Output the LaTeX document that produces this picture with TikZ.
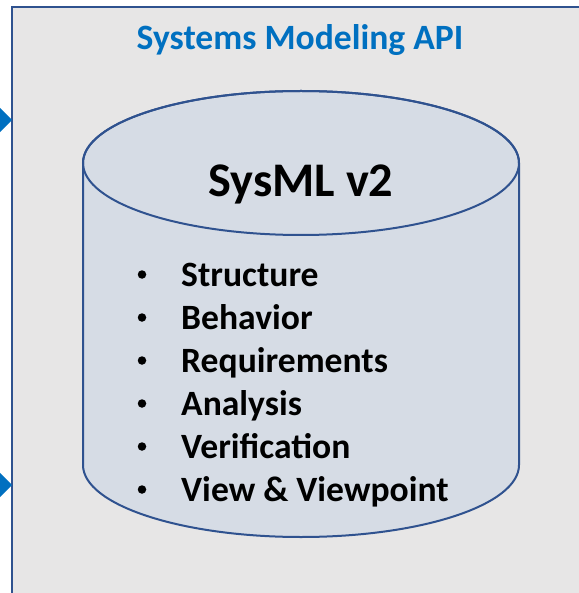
\documentclass[tikz,border=0pt]{standalone}
\usepackage{fontspec}
\setmainfont{Carlito}
\usetikzlibrary{arrows.meta}
\definecolor{framefill}{HTML}{E7E6E6}
\definecolor{frameline}{HTML}{2F528F}
\definecolor{cylfill}{HTML}{D6DCE5}
\definecolor{titleblue}{HTML}{0070C0}
\tikzset{
  framebox/.style={fill=framefill, draw=frameline, line width=1.8pt},
  cyl/.style={fill=cylfill, draw=frameline, line width=2pt},
  titletext/.style={font=\fontsize{35.6}{42}\selectfont\bfseries, text=titleblue, inner sep=0pt},
  bigtext/.style={font=\fontsize{48.3}{58}\selectfont\bfseries, inner sep=0pt},
  itemtext/.style={font=\fontsize{35.6}{42}\selectfont\bfseries, inner sep=0pt, anchor=base west},
  bulletdot/.style={circle, fill=black, inner sep=0pt, minimum size=8.5pt},
  inarrow/.style={-{Triangle[length=20pt,width=40pt]}, draw=titleblue, fill=titleblue, line width=2pt}
}
\begin{document}
\begin{tikzpicture}[x=1pt,y=1pt]
\useasboundingbox (0,0) rectangle (578,-593);
% frame
\draw[framebox] (12,-7) rectangle (600,-620);
\coordinate (fw1) at (12,-120);
\coordinate (fw2) at (12,-485);
\coordinate (src1) at (-60,-120);
\coordinate (src2) at (-60,-485);
\draw[inarrow] (src1) -- (fw1);
\draw[inarrow] (src2) -- (fw2);
% title
\node[titletext, anchor=base] (title) at (300,-50) {Systems Modeling API};
% cylinder
\path[cyl] (83,-163) -- (83,-465)
  arc[start angle=180, end angle=360, x radius=218pt, y radius=72pt]
  -- (519,-163)
  arc[start angle=0, end angle=180, x radius=218pt, y radius=72pt] -- cycle;
\draw[cyl, fill=none] (301,-163) ellipse[x radius=218pt, y radius=72pt];
\node[bigtext, anchor=base] (sysml) at (301,-197) {SysML v2};
% list
\foreach \i/\t/\y in {1/Structure/286, 2/Behavior/329, 3/Requirements/372, 4/Analysis/415, 5/Verification/458, 6/View \& Viewpoint/501}{
  \node[bulletdot] (b\i) at (142,-\y+11.5) {};
  \node[itemtext] (it\i) at (181,-\y) {\t};
}
\end{tikzpicture}
\end{document}
